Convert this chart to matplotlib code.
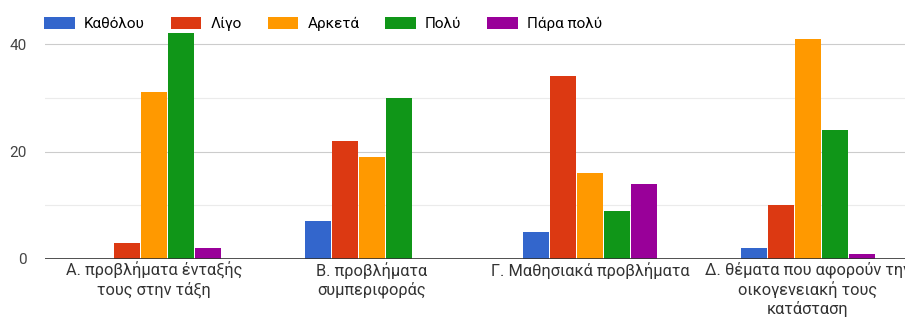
"""Survey response bar chart (Google Forms style)."""
import numpy as np
import matplotlib.pyplot as plt
import matplotlib as mpl

categories = [
    "Α. προβλήματα ένταξής\nτους στην τάξη",
    "Β. προβλήματα\nσυμπεριφοράς",
    "Γ. Μαθησιακά προβλήματα",
    "Δ. θέματα που αφορούν την\nοικογενειακή τους\nκατάσταση",
]
series_names = ["Καθόλου", "Λίγο", "Αρκετά", "Πολύ", "Πάρα πολύ"]
katholou = [0, 7, 5, 2]
ligo = [3, 22, 34, 10]
arketa = [31, 19, 16, 41]
poly = [42, 30, 9, 24]
para_poly = [2, 0, 14, 1]
series_values = [katholou, ligo, arketa, poly, para_poly]
colors = ["#3366cc", "#dc3912", "#ff9900", "#109618", "#990099"]

mpl.rcParams.update({
    "font.family": ["Roboto", "DejaVu Sans"],
    "font.size": 11,
})

fig = plt.figure(figsize=(9.05, 3.2), dpi=100)
# axes span past the right edge, as in the cropped screenshot
ax = fig.add_axes([45 / 905, 61 / 320, 872 / 905, 231 / 320])

x = np.arange(len(categories))
step = 0.124
width = 0.118
handles = []
for i, (name, vals, c) in enumerate(zip(series_names, series_values, colors)):
    offs = (i - 2) * step
    b = ax.bar(x + offs, vals, width, color=c, label=name, zorder=3)
    handles.append(b)

ax.set_xlim(-0.5, len(categories) - 0.5)
ax.set_ylim(0, 43)
ax.set_yticks([0, 20, 40])
ax.set_yticks([10, 30], minor=True)
ax.grid(axis="y", which="major", color="#cccccc", lw=0.8, zorder=0)
ax.grid(axis="y", which="minor", color="#ebebeb", lw=0.8, zorder=0)
ax.axhline(0, color="#333333", lw=1.2, zorder=4)

ax.set_xticks(x)
ax.set_xticklabels(categories, fontsize=11.8, color="#333333", linespacing=1.2)
ax.tick_params(axis="y", which="both", length=0, labelsize=11,
               labelcolor="#444444", pad=13)
ax.tick_params(axis="x", length=0, pad=2)
for s in ax.spines.values():
    s.set_visible(False)

fig.legend(handles=handles, labels=series_names, loc="center left",
           bbox_to_anchor=(38 / 905, 1 - 24 / 320), ncol=5, frameon=False,
           fontsize=11, handlelength=2.0, handleheight=0.9,
           handletextpad=0.6, columnspacing=1.7, borderaxespad=0.0)

fig.savefig("out.png", dpi=100)
